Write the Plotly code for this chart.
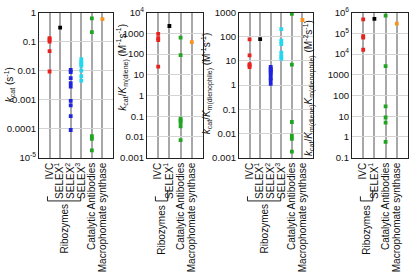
import plotly.graph_objects as go

W, H = 410, 272

# ---------------- data ----------------
cats_full = ["IVC", "SELEX<sup>1</sup>", "SELEX<sup>2</sup>", "SELEX<sup>3</sup>",
             "Catalytic Antibodies", "Macrophomate synthase"]
cats_short = ["IVC", "SELEX<sup>1</sup>", "Catalytic Antibodies", "Macrophomate synthase"]
colors_full = ["#e8231f", "#000000", "#1f23e0", "#22d8f0", "#1fa51f", "#f7931e"]
colors_short = ["#e8231f", "#000000", "#1fa51f", "#f7931e"]

# panel 1: kcat (s^-1)
kcat_vals = [
    [0.13, 0.12, 0.10, 0.047, 0.0093],
    [0.30],
    [0.0105, 0.0089, 0.0055, 0.0037, 0.0028, 0.0009, 0.00063, 0.00027, 0.00009],
    [0.025, 0.020, 0.017, 0.0145, 0.010, 0.0065, 0.0045],
    [0.63, 0.21, 5.5e-5, 4.5e-5, 1.8e-5],
    [0.59],
]
# panel 2: kcat/Km(diene) (M^-1 s^-1)
kdiene_vals = [
    [930, 575, 470, 24.5],
    [2240],
    [620, 89, 0.076, 0.062, 0.050, 0.033, 0.007],
    [370],
]
# panel 3: kcat/Km(dienophile) (M^-1 s^-1)
kdienophile_vals = [
    [78, 17, 7.4, 6.5, 5.6],
    [80],
    [5.6, 4.8, 4.2, 3.6, 3.1, 2.5, 1.9, 1.6, 1.12],
    [205, 68, 50, 22, 15.6, 12.3],
    [890, 7.0, 0.030, 0.0081, 0.006, 0.0018],
    [490],
]
# panel 4: kcat/(Km(diene) Km(dienophile)) (M^-2 s^-1)
kboth_vals = [
    [4.7e5, 7.3e4, 6.1e4, 1.6e4],
    [4.9e5],
    [7.0e5, 2600, 30, 8.7, 4.9, 0.58],
    [2.9e5],
]

ticks_p1 = [1e-5, 1e-4, 1e-3, 1e-2, 1e-1, 1]
ticktext_p1 = ["10<sup>-5</sup>", "0.0001", "0.001", "0.01", "0.1", "1"]
ticks_p2 = [1e-3, 1e-2, 1e-1, 1, 10, 100, 1000, 1e4]
ticktext_p2 = ["0.001", "0.01", "0.1", "1", "10", "100", "1000", "10<sup>4</sup>"]
ticks_p3 = [1e-3, 1e-2, 1e-1, 1, 10, 100, 1000]
ticktext_p3 = ["0.001", "0.01", "0.1", "1", "10", "100", "1000"]
ticks_p4 = [0.1, 1, 10, 100, 1000, 1e4, 1e5, 1e6]
ticktext_p4 = ["0.1", "1", "10", "100", "1000", "10<sup>4</sup>", "10<sup>5</sup>", "10<sup>6</sup>"]

titles = [
    "<i>k</i><sub>cat</sub> (s<sup>-1</sup>)",
    "<i>k</i><sub>cat</sub>/<i>K</i><sub>m(diene)</sub> (M<sup>-1</sup>s<sup>-1</sup>)",
    "<i>k</i><sub>cat</sub>/<i>K</i><sub>m(dienophile)</sub> (M<sup>-1</sup>s<sup>-1</sup>)",
    "<i>k</i><sub>cat</sub>/<i>K</i><sub>m(diene)</sub><i>K</i><sub>m(dienophile)</sub> (M<sup>-2</sup>s<sup>-1</sup>)",
]

# ---------------- layout helpers ----------------
FONT = "Liberation Sans, Arial, sans-serif"
panels = [
    dict(vals=kcat_vals, cats=cats_full, cols=colors_full, x0=39, x1=113,
         yr=[-5, 0], tv=ticks_p1, tt=ticktext_p1, tx=9, ty=85),
    dict(vals=kdiene_vals, cats=cats_short, cols=colors_short, x0=147, x1=203,
         yr=[-3, 4], tv=ticks_p2, tt=ticktext_p2, tx=122, ty=66),
    dict(vals=kdienophile_vals, cats=cats_full, cols=colors_full, x0=239, x1=313,
         yr=[-3, 3], tv=ticks_p3, tt=ticktext_p3, tx=207, ty=84),
    dict(vals=kboth_vals, cats=cats_short, cols=colors_short, x0=352, x1=408,
         yr=[-1, 6], tv=ticks_p4, tt=ticktext_p4, tx=309, ty=88),
]
PT, PB = 6, 164

fig = go.Figure()
shapes = []
annotations = []
for i, p in enumerate(panels):
    n = i + 1
    xa = "x" if n == 1 else f"x{n}"
    ya = "y" if n == 1 else f"y{n}"
    ncat = len(p["cats"])
    for j, (v, c) in enumerate(zip(p["vals"], p["cols"])):
        fig.add_trace(go.Scatter(
            x=[j + 1] * len(v), y=v, mode="markers", xaxis=xa, yaxis=ya,
            marker=dict(symbol="square", size=3.8, color=c, line=dict(width=0)),
            showlegend=False, hoverinfo="skip"))
    axx = dict(domain=[p["x0"] / W, p["x1"] / W], range=[0, ncat + 1],
               tickvals=list(range(1, ncat + 1)), ticktext=p["cats"],
               tickangle=-90, showgrid=True, gridcolor="#a8a8a8", gridwidth=1.5,
               zeroline=False, ticks="", showline=True, linecolor="#222222",
               linewidth=1, mirror=True, anchor=ya, ticklabeloverflow="allow",
               tickfont=dict(family=FONT, size=10, color="#111111"))
    axy = dict(domain=[1 - PB / H, 1 - PT / H], type="log", range=p["yr"],
               tickvals=p["tv"], ticktext=p["tt"], showgrid=True,
               gridcolor="#d4d4d4", gridwidth=1, zeroline=False, ticks="",
               showline=True, linecolor="#222222", linewidth=1, mirror=True,
               anchor=xa, ticklabeloverflow="allow",
               tickfont=dict(family=FONT, size=9.6, color="#111111"))
    fig.update_layout({("xaxis" if n == 1 else f"xaxis{n}"): axx,
                       ("yaxis" if n == 1 else f"yaxis{n}"): axy})
    # y-axis title
    annotations.append(dict(xref="paper", yref="paper", x=p["tx"] / W,
                            y=1 - p["ty"] / H, text=titles[i], textangle=-90,
                            showarrow=False, xanchor="center", yanchor="middle",
                            font=dict(family=FONT, size=10, color="#111111")))
    # Ribozymes bracket (IVC .. last SELEX)
    if ncat == 6:
        last_selex = 4
        bx0, bx1 = 0.8, 3.95
        by, byl, byr = 211, 206, 206
        rib_top = 213
    else:
        last_selex = 2
        bx0, bx1 = 0.75, 1.85
        by, byl, byr = 211, 206, 199
        rib_top = 214
    for (xa0, ya0, xa1, ya1) in [(bx0, by, bx1, by), (bx0, by, bx0, byl),
                                 (bx1, by, bx1, byr)]:
        shapes.append(dict(type="line", xref=xa, yref="paper", x0=xa0,
                           y0=1 - ya0 / H, x1=xa1, y1=1 - ya1 / H,
                           line=dict(color="#222222", width=1)))
    annotations.append(dict(xref=xa, yref="paper", x=(bx0 + bx1) / 2,
                            y=1 - rib_top / H, text="Ribozymes", textangle=-90,
                            showarrow=False, xanchor="center", yanchor="top",
                            font=dict(family=FONT, size=10, color="#111111")))

fig.update_layout(width=W, height=H, margin=dict(l=0, r=0, t=0, b=0),
                  paper_bgcolor="white", plot_bgcolor="white",
                  shapes=shapes, annotations=annotations)
fig.write_html("out.html", config={"displayModeBar": False},
               post_script="document.body.style.margin='0';document.body.style.overflow='hidden';")
